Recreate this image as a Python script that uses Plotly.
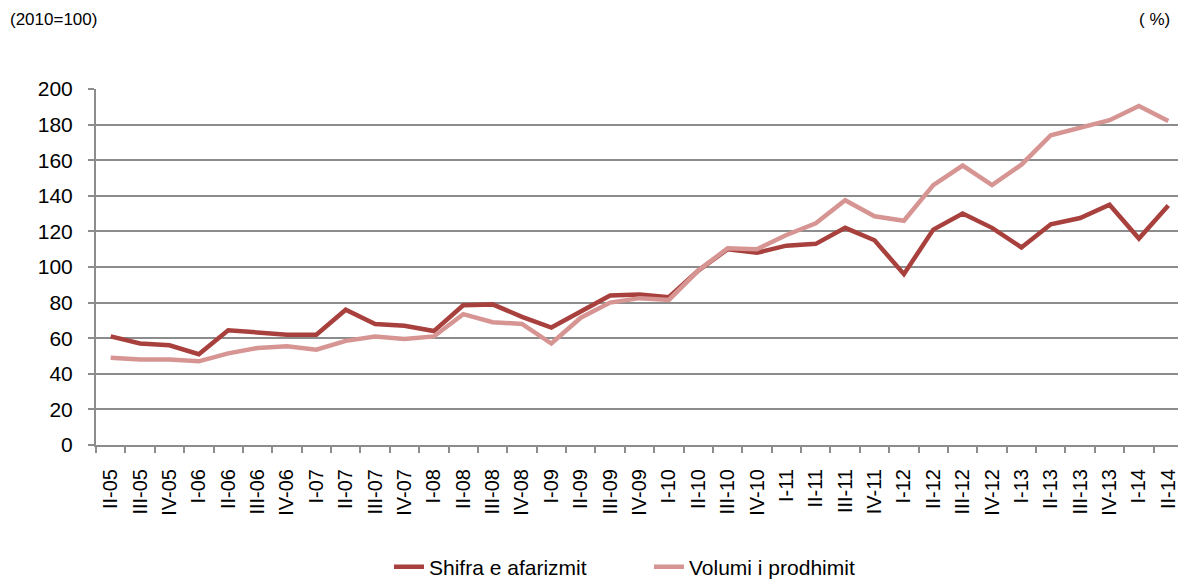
import plotly.graph_objects as go

quarters = ["II-05", "III-05", "IV-05",
            "I-06", "II-06", "III-06", "IV-06",
            "I-07", "II-07", "III-07", "IV-07",
            "I-08", "II-08", "III-08", "IV-08",
            "I-09", "II-09", "III-09", "IV-09",
            "I-10", "II-10", "III-10", "IV-10",
            "I-11", "II-11", "III-11", "IV-11",
            "I-12", "II-12", "III-12", "IV-12",
            "I-13", "II-13", "III-13", "IV-13",
            "I-14", "II-14"]

shifra_afarizmit = [61, 57, 56, 51, 64.5, 63, 62, 62, 76, 68, 67, 64, 78.5, 79, 72, 66,
                    75, 84, 84.5, 83, 98, 110, 108, 112, 113, 122, 115, 96, 121, 130,
                    122, 111, 124, 127.5, 135, 116, 134.5]

volumi_prodhimit = [49, 48, 48, 47, 51.5, 54.5, 55.5, 53.5, 58.5, 61, 59.5, 61, 73.5, 69,
                    68, 57, 71.5, 80, 82.5, 81.5, 98, 110.5, 110, 118, 124.5, 137.5, 128.5,
                    126, 146, 157, 146, 157.5, 174, 178.5, 182.5, 190.5, 182]

y_ticks = [0, 20, 40, 60, 80, 100, 120, 140, 160, 180, 200]

# page body has an 8px margin, so the figure is sized to fill the rest of the window
W, H = 1178, 575
ML, MT, MR, MB = 88, 81, 3, 138
PW, PH = W - ML - MR, H - MT - MB

fig = go.Figure()
fig.add_trace(go.Scatter(x=quarters, y=shifra_afarizmit, mode="lines",
                         name="Shifra e afarizmit",
                         line=dict(color="#A8403D", width=4.5)))
fig.add_trace(go.Scatter(x=quarters, y=volumi_prodhimit, mode="lines",
                         name="Volumi i prodhimit",
                         line=dict(color="#D69593", width=4.5)))

fig.update_layout(
    width=W, height=H,
    margin=dict(l=ML, r=MR, t=MT, b=MB, autoexpand=False),
    plot_bgcolor="white", paper_bgcolor="white",
    font=dict(family="Liberation Sans, Arial, sans-serif", color="black", size=20),
    showlegend=True,
    legend=dict(orientation="h", x=(649 - 96) / PW, xanchor="center",
                y=-(567 - 445) / PH, yanchor="middle",
                font=dict(size=21), tracegroupgap=0, entrywidth=215),
    xaxis=dict(type="category", tickangle=-90, tickfont=dict(size=20),
               showgrid=False, showline=True, linecolor="#8c8c8c", linewidth=2,
               ticks="outside", ticklen=6, tickcolor="#8c8c8c", tickwidth=1.5,
               tickson="boundaries", range=[-0.5, len(quarters) - 0.5], zeroline=False,
               ticklabelstandoff=14),
    yaxis=dict(range=[0, 200], tickvals=y_ticks, showgrid=True, gridcolor="#8c8c8c",
               gridwidth=1.8, showline=True, linecolor="#8c8c8c", linewidth=2,
               ticks="outside", ticklen=6, tickcolor="#8c8c8c", tickwidth=1.5,
               tickfont=dict(size=21), zeroline=False, ticklabelstandoff=11),
    annotations=[
        dict(text="(2010=100)", xref="paper", yref="paper", x=-88 / PW, y=1 + 69 / PH,
             xanchor="left", yanchor="middle", showarrow=False, font=dict(size=17)),
        dict(text="( %)", xref="paper", yref="paper", x=(1172 - 96) / PW, y=1 + 69 / PH,
             xanchor="right", yanchor="middle", showarrow=False, font=dict(size=17)),
    ],
)

fig.write_html("out.html")
